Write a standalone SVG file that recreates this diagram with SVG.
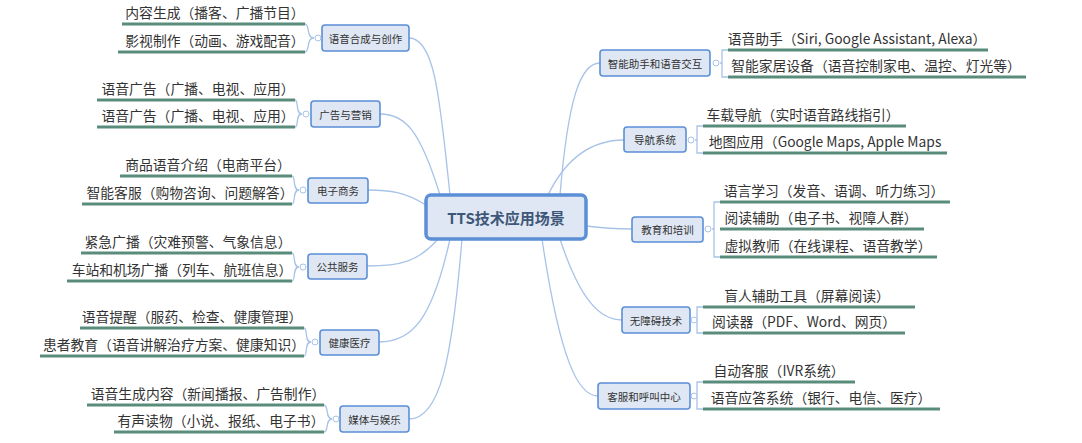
<svg xmlns="http://www.w3.org/2000/svg" width="1082" height="443" viewBox="0 0 1082 443">
<style>
text{font-family:"Noto Sans CJK SC","Noto Sans",sans-serif;fill:#333}
.b{fill:#dfe7f4;stroke:#5b8fd6;stroke-width:1.6}
.bt{font-size:10.5px;text-anchor:middle;dominant-baseline:central}
.l{font-size:13.8px;text-anchor:middle}
.u{stroke:#5a8c7c;stroke-width:3}
.c{fill:none;stroke:#a8c3e8;stroke-width:1.3}
.k{fill:#fff;stroke:#a8c3e8;stroke-width:1}
</style>
<rect width="1082" height="443" fill="#fff"/>
<g id="connectors">
<path class="c" d="M450 195 C440 100 435 38 409 38"/>
<path class="c" d="M440 195 C420 130 405 114 380 114"/>
<path class="c" d="M426 205 C405 192 390 190 368 190"/>
<path class="c" d="M438 239 C418 262 400 266 367 266"/>
<path class="c" d="M450 239 C432 320 412 342 379 342"/>
<path class="c" d="M462 239 C452 360 440 419 409 419"/>
<path class="c" d="M560 195 C568 100 580 63 600 63"/>
<path class="c" d="M548 195 C570 150 600 140 624 140"/>
<path class="c" d="M586 226 C610 229 620 229 632 229"/>
<path class="c" d="M560 239 C580 300 600 320 622 320"/>
<path class="c" d="M542 239 C560 360 578 396 598 396"/>
<path class="c" d="M314 38 C306 38 310 24 305 24 M314 38 C306 38 310 52 305 52"/>
<path class="c" d="M302 114 C295 114 299 100 295 100 M302 114 C295 114 299 127 295 127"/>
<path class="c" d="M299 190 C292 190 296 176 292 176 M299 190 C292 190 296 204 292 204"/>
<path class="c" d="M299 267 C292 267 296 253 292 253 M299 267 C292 267 296 281 292 281"/>
<path class="c" d="M311 342 C304 342 308 328 304 328 M311 342 C304 342 308 356 304 356"/>
<path class="c" d="M332 419 C325 419 329 405 324 405 M332 419 C325 419 329 432 324 432"/>
<path class="c" d="M720 63 H722 V50 H728 M722 63 V77 H728"/>
<path class="c" d="M695 140 H697 V126 H703 M697 140 V153 H703"/>
<path class="c" d="M712 229 H714 V202 H720 M714 229 V257 H720"/>
<path class="c" d="M694 320 H697 V307 H703 M697 320 V333 H703"/>
<path class="c" d="M694 396 H697 V382 H703 M697 396 V409 H703"/>
</g>
<g id="root"><rect x="426" y="195" width="160" height="44" rx="5" fill="#dfe7f4" stroke="#5b8fd6" stroke-width="3.5"/><text x="506" y="217" font-size="15" font-weight="bold" text-anchor="middle" dominant-baseline="central" style="fill:#3e5779">TTS技术应用场景</text></g>

<g id="n1"><rect class="b" x="322" y="25" width="87" height="26" rx="3"/><text class="bt" x="365.5" y="38">语音合成与创作</text><circle class="k" cx="318" cy="38" r="3"/>
<line class="u" x1="122" y1="24" x2="305" y2="24"/><text class="l" x="215" y="18">内容生成（播客、广播节目）</text>
<line class="u" x1="118" y1="52" x2="305" y2="52"/><text class="l" x="215" y="46">影视制作（动画、游戏配音）</text></g>

<g id="n2"><rect class="b" x="311" y="101" width="69" height="26" rx="3"/><text class="bt" x="345.5" y="114">广告与营销</text><circle class="k" cx="306" cy="114" r="3"/>
<line class="u" x1="97" y1="100" x2="295" y2="100"/><text class="l" x="198" y="94">语音广告（广播、电视、应用）</text>
<line class="u" x1="97" y1="127" x2="295" y2="127"/><text class="l" x="198" y="121">语音广告（广播、电视、应用）</text></g>

<g id="n3"><rect class="b" x="308" y="178" width="60" height="25" rx="3"/><text class="bt" x="338" y="190.5">电子商务</text><circle class="k" cx="303" cy="190" r="3"/>
<line class="u" x1="120" y1="176" x2="292" y2="176"/><text class="l" x="208" y="170">商品语音介绍（电商平台）</text>
<line class="u" x1="82" y1="204" x2="292" y2="204"/><text class="l" x="190" y="198">智能客服（购物咨询、问题解答）</text></g>

<g id="n4"><rect class="b" x="308" y="254" width="59" height="25" rx="3"/><text class="bt" x="337.5" y="266.5">公共服务</text><circle class="k" cx="303" cy="267" r="3"/>
<line class="u" x1="81" y1="253" x2="292" y2="253"/><text class="l" x="188" y="247">紧急广播（灾难预警、气象信息）</text>
<line class="u" x1="67" y1="281" x2="292" y2="281"/><text class="l" x="182" y="275">车站和机场广播（列车、航班信息）</text></g>

<g id="n5"><rect class="b" x="320" y="330" width="59" height="25" rx="3"/><text class="bt" x="349.5" y="342.5">健康医疗</text><circle class="k" cx="315" cy="342" r="3"/>
<line class="u" x1="80" y1="328" x2="304" y2="328"/><text class="l" x="192" y="322">语音提醒（服药、检查、健康管理）</text>
<line class="u" x1="40" y1="356" x2="304" y2="356"/><text class="l" x="174" y="350">患者教育（语音讲解治疗方案、健康知识）</text></g>

<g id="n6"><rect class="b" x="340" y="406" width="69" height="26" rx="3"/><text class="bt" x="374.5" y="419">媒体与娱乐</text><circle class="k" cx="336" cy="419" r="3"/>
<line class="u" x1="87" y1="405" x2="324" y2="405"/><text class="l" x="208" y="399">语音生成内容（新闻播报、广告制作）</text>
<line class="u" x1="114" y1="432" x2="324" y2="432"/><text class="l" x="221" y="426">有声读物（小说、报纸、电子书）</text></g>

<g id="n7"><rect class="b" x="600" y="50" width="110" height="26" rx="3"/><text class="bt" x="655" y="63">智能助手和语音交互</text><circle class="k" cx="716" cy="63" r="3"/>
<line class="u" x1="728" y1="50" x2="988" y2="50"/><text class="l" x="857" y="44">语音助手（Siri, Google Assistant, Alexa）</text>
<line class="u" x1="728" y1="77" x2="1026" y2="77"/><text class="l" x="876" y="71">智能家居设备（语音控制家电、温控、灯光等）</text></g>

<g id="n8"><rect class="b" x="624" y="127" width="62" height="25" rx="3"/><text class="bt" x="655" y="139.5">导航系统</text><circle class="k" cx="691" cy="140" r="3"/>
<line class="u" x1="703" y1="126" x2="906" y2="126"/><text class="l" x="803" y="120">车载导航（实时语音路线指引）</text>
<line class="u" x1="703" y1="153" x2="947" y2="153"/><text class="l" x="825" y="147">地图应用（Google Maps, Apple Maps</text></g>

<g id="n9"><rect class="b" x="632" y="217" width="71" height="25" rx="3"/><text class="bt" x="667.5" y="229.5">教育和培训</text><circle class="k" cx="708" cy="229" r="3"/>
<line class="u" x1="720" y1="202" x2="950" y2="202"/><text class="l" x="834" y="196">语言学习（发音、语调、听力练习）</text>
<line class="u" x1="720" y1="229" x2="924" y2="229"/><text class="l" x="821" y="223">阅读辅助（电子书、视障人群）</text>
<line class="u" x1="720" y1="257" x2="937" y2="257"/><text class="l" x="828" y="251">虚拟教师（在线课程、语音教学）</text></g>

<g id="n10"><rect class="b" x="622" y="307" width="68" height="26" rx="3"/><text class="bt" x="656" y="320">无障碍技术</text><circle class="k" cx="694" cy="320" r="3"/>
<line class="u" x1="703" y1="307" x2="915" y2="307"/><text class="l" x="807" y="301">盲人辅助工具（屏幕阅读）</text>
<line class="u" x1="703" y1="333" x2="905" y2="333"/><text class="l" x="804" y="327">阅读器（PDF、Word、网页）</text></g>

<g id="n11"><rect class="b" x="598" y="383" width="92" height="26" rx="3"/><text class="bt" x="644" y="396">客服和呼叫中心</text><circle class="k" cx="694" cy="396" r="3"/>
<line class="u" x1="703" y1="382" x2="855" y2="382"/><text class="l" x="779" y="376">自动客服（IVR系统）</text>
<line class="u" x1="703" y1="409" x2="940" y2="409"/><text class="l" x="821" y="403">语音应答系统（银行、电信、医疗）</text></g>
</svg>
